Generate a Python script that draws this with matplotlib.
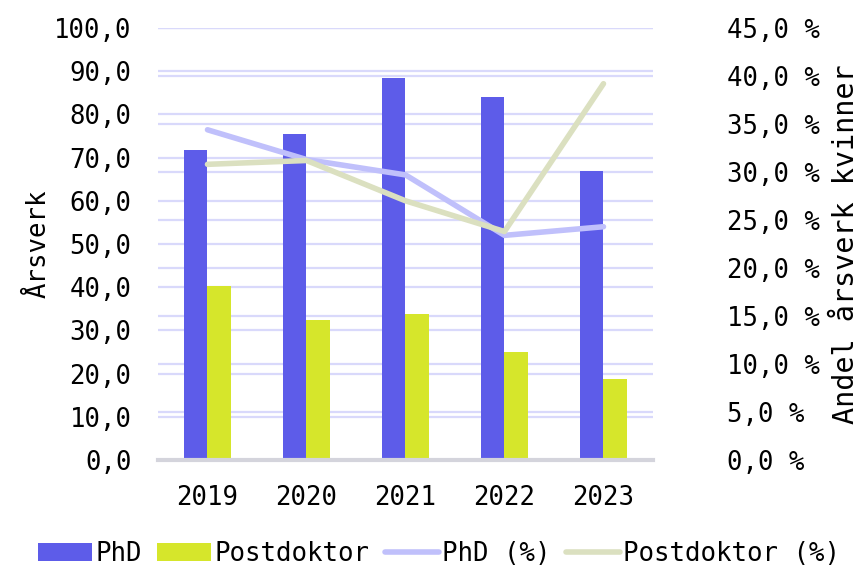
import numpy as np
import matplotlib
matplotlib.use("Agg")
from matplotlib import pyplot as plt
from matplotlib.ticker import FuncFormatter

years = ['2019', '2020', '2021', '2022', '2023']
phd = [71.7, 75.5, 88.4, 84.1, 66.8]
postdok = [40.3, 32.4, 33.9, 25.1, 18.8]
phd_pct = [34.4, 31.3, 29.7, 23.4, 24.3]
postdok_pct = [30.8, 31.2, 27.0, 23.8, 39.2]

plt.rcParams['font.family'] = ['DejaVu Sans Mono']
fs = 18.5

fig = plt.figure(figsize=(8.61, 5.67), dpi=100)
ax = fig.add_axes([0.1835, 0.1887, 0.5749, 0.7619])
ax2 = ax.twinx()
# right axis (and its grid) behind the bars; lines drawn on top through ax2's scale
ax2.set_zorder(0)
ax.set_zorder(1)
ax.patch.set_visible(False)

x = np.arange(len(years))
w = 0.24
grid_c = '#d9d9fb'

b1 = ax.bar(x - w / 2, phd, w, color='#5d5ce9', label='PhD', zorder=2)
b2 = ax.bar(x + w / 2, postdok, w, color='#d6e62b', label='Postdoktor', zorder=2)

ax.set_xlim(-0.5, 4.5)
ax.set_ylim(0, 100)
ax2.set_ylim(0, 45)
l1, = ax.plot(x, phd_pct, color='#c0c0fb', lw=4, solid_capstyle='round',
              label='PhD (%)', transform=ax2.transData, zorder=4)
l2, = ax.plot(x, postdok_pct, color='#dbe0c0', lw=4, solid_capstyle='round',
              label='Postdoktor (%)', transform=ax2.transData, zorder=4)

ax.set_yticks(np.arange(0, 101, 10))
ax2.set_yticks(np.arange(0, 46, 5))
ax.yaxis.set_major_formatter(FuncFormatter(lambda v, p: f'{v:.1f}'.replace('.', ',')))
ax2.yaxis.set_major_formatter(FuncFormatter(lambda v, p: f'{v:.1f} %'.replace('.', ',')))
ax.set_xticks(x)
ax.set_xticklabels(years)

ax.grid(axis='y', color=grid_c, lw=1.6, zorder=0)
ax2.grid(axis='y', color=grid_c, lw=1.6, zorder=0)
ax.set_axisbelow(True)

for a in (ax, ax2):
    for s in ('top', 'left', 'right', 'bottom'):
        a.spines[s].set_visible(False)
    a.tick_params(length=0, labelsize=fs)
ax.axhline(0, color='#d4d4dc', lw=3, zorder=3, clip_on=False)
ax.tick_params(axis='y', pad=19)
ax2.tick_params(axis='y', pad=53)
ax.tick_params(axis='x', pad=18)

ax.set_ylabel('Årsverk', fontsize=fs, labelpad=2)
ax2.set_ylabel('Andel årsverk kvinner', fontsize=20.5, labelpad=9)

fig.legend([b1, b2, l1, l2], ['PhD', 'Postdoktor', 'PhD (%)', 'Postdoktor (%)'],
           loc='lower center', ncol=4, frameon=False,
           fontsize=fs, bbox_to_anchor=(0.51, -0.04), handlelength=2.1,
           handletextpad=0.12, columnspacing=0.6)

fig.savefig('out.png', dpi=100)
